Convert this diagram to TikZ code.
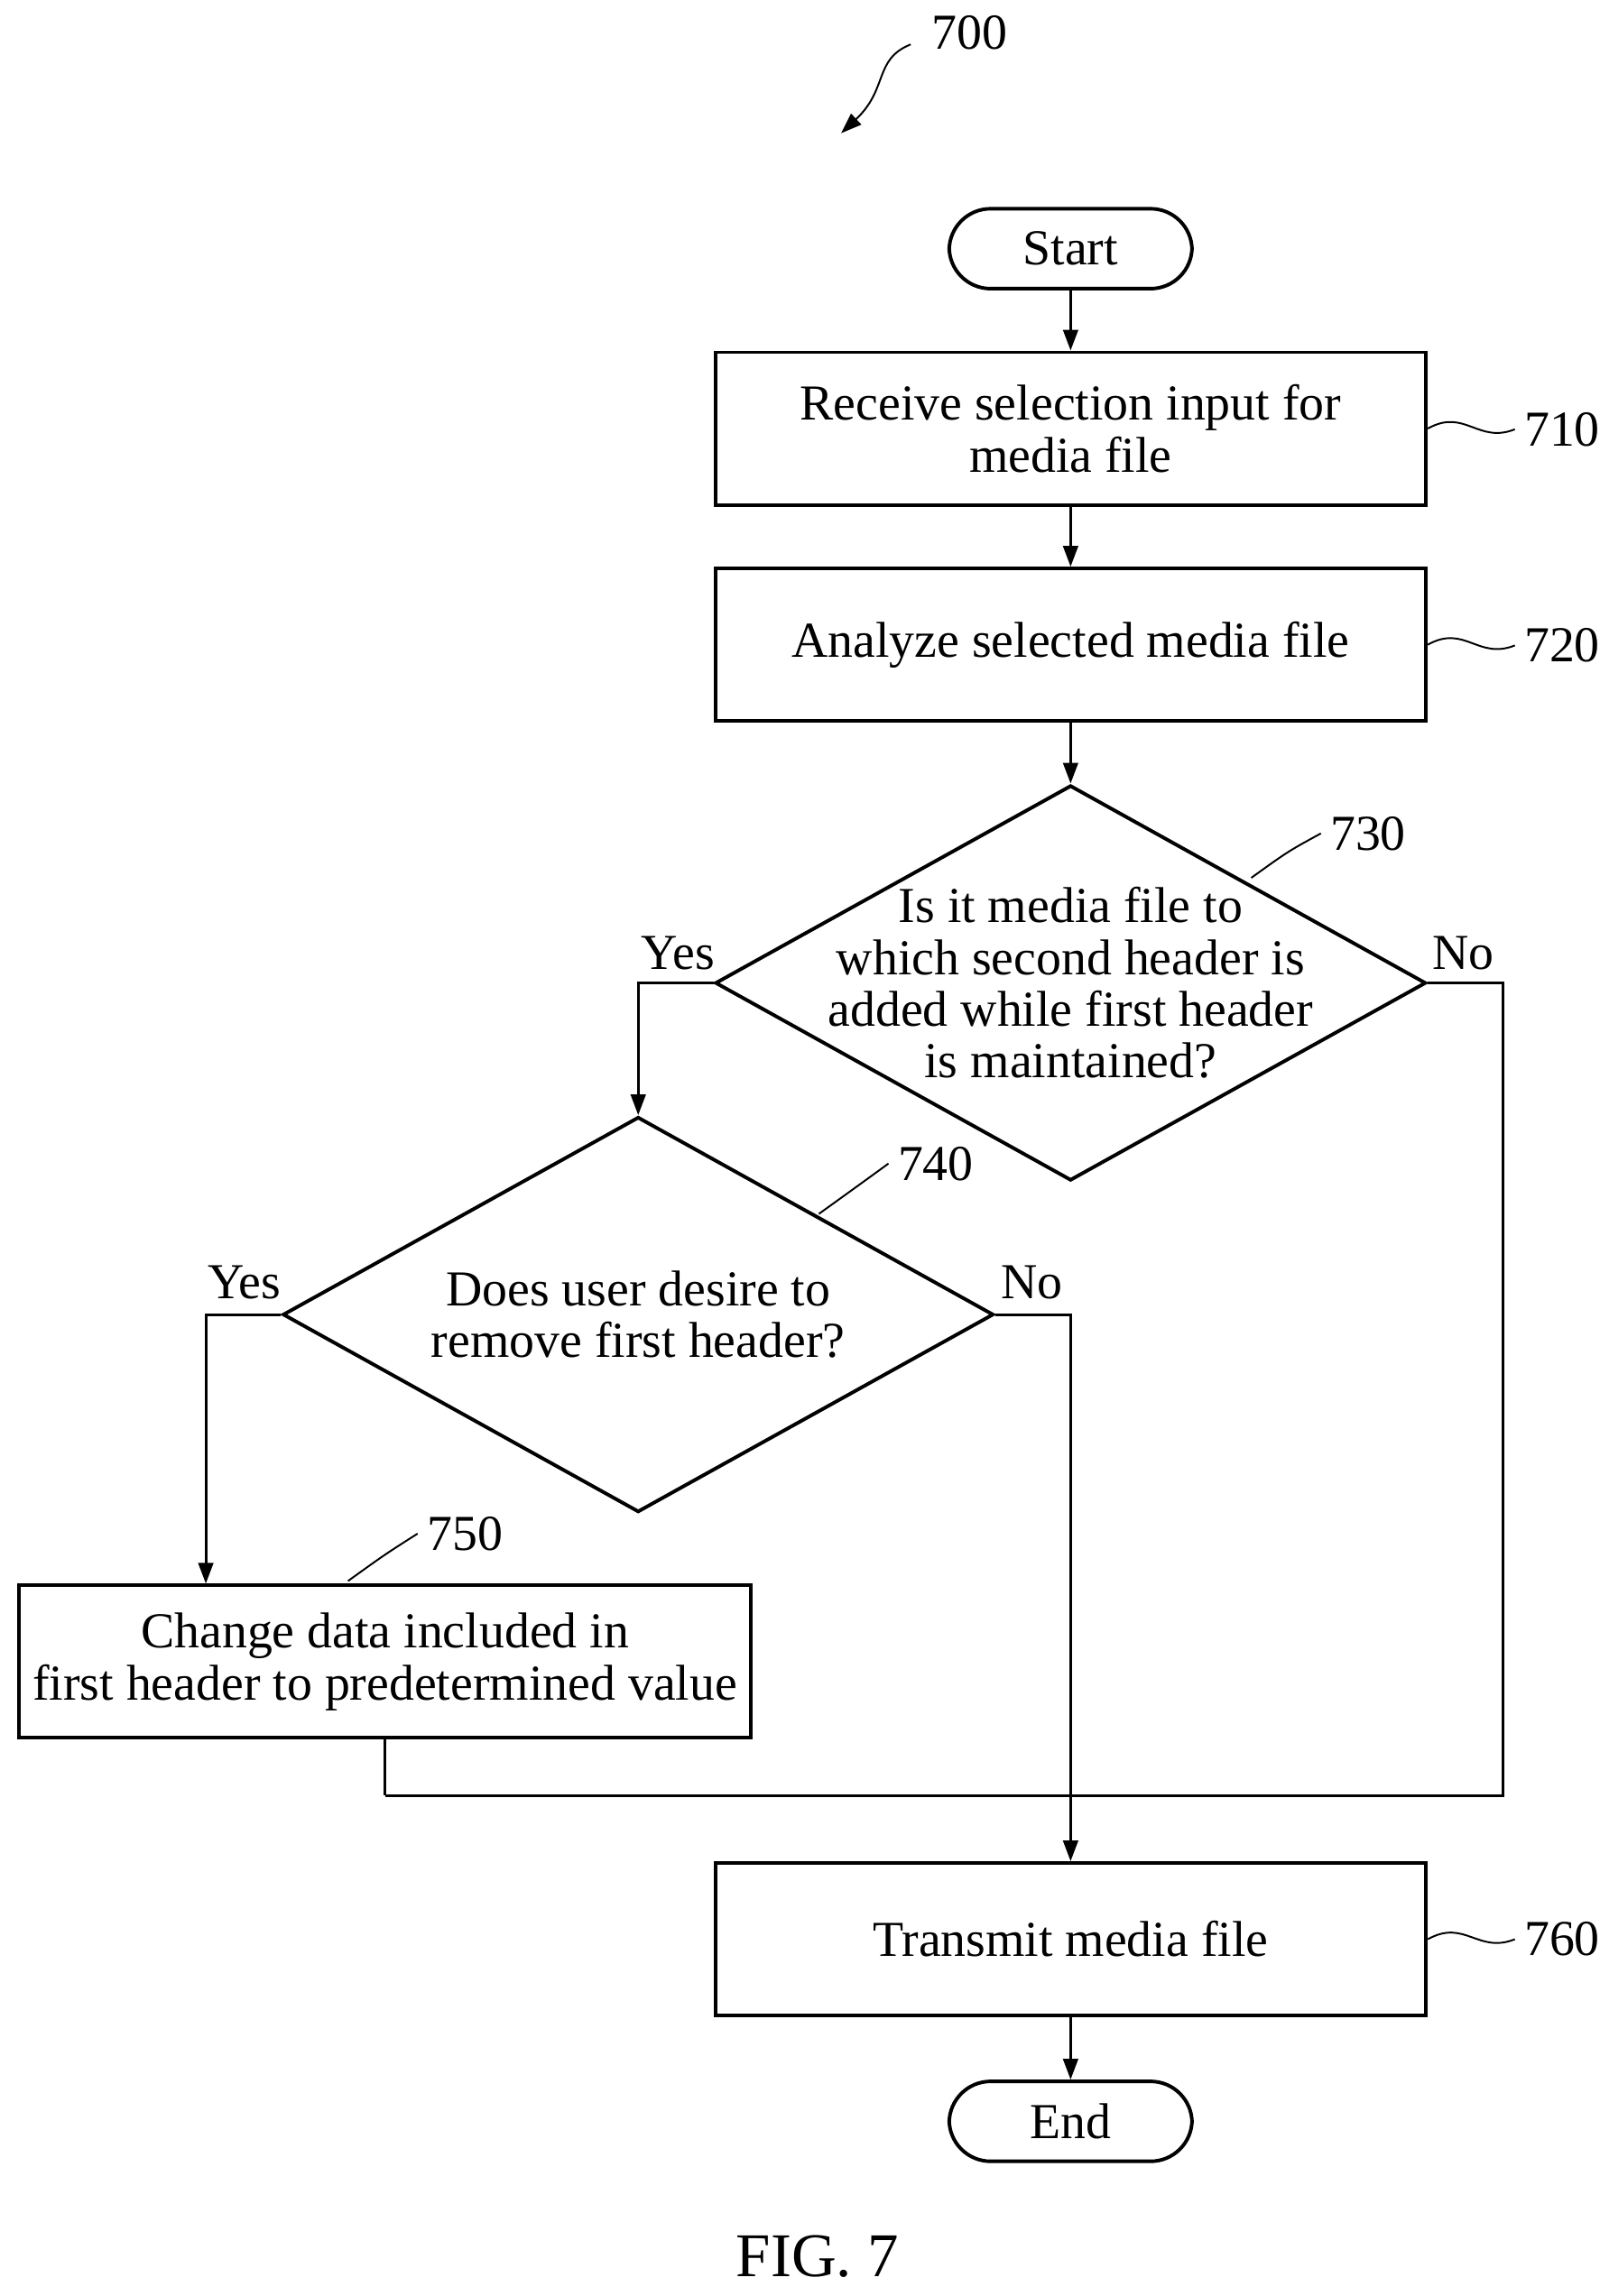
\documentclass[tikz,border=0pt]{standalone}
\usepackage{fontspec}
\setmainfont{Liberation Serif}
\usetikzlibrary{shapes.geometric,arrows.meta}
\begin{document}
\begin{tikzpicture}[x=0.5pt,y=-0.5pt,
  every node/.style={font=\fontsize{17}{17.5}\selectfont},
  box/.style={draw,line width=1.2pt,minimum width=240pt,minimum height=51.5pt,align=center,inner sep=0},
  pill/.style={draw,line width=1.2pt,rounded corners=14pt,minimum width=82pt,minimum height=27pt,inner sep=0},
  dia/.style={draw,line width=1.2pt,diamond,minimum width=240pt,minimum height=133.5pt,inner sep=0},
  ln/.style={line width=0.9pt},
  arr/.style={ln,-{Triangle[length=7pt,width=5pt]}},
  lead/.style={line width=0.6pt},
  ref/.style={anchor=west,inner sep=0}]
\useasboundingbox (0,0) rectangle (1080,1551);
\node (n700) at (655,22) {700};
\draw[lead,-{Triangle[length=7pt,width=5pt]}] (615,30) .. controls (590,40) and (600,60) .. (568,90);
\node[pill] (start) at (723,168) {Start};
\node[box] (b710) at (723,289.5) {Receive selection input for\\media file};
\node[box] (b720) at (723,435.5) {Analyze selected media file};
\node[dia] (d730) at (723,664) {};
\node[align=center] (t730) at (723,664) {Is it media file to\\which second header is\\added while first header\\is maintained?};
\node[dia] (d740) at (431,888) {};
\node[align=center] (t740) at (431,888) {Does user desire to\\remove first header?};
\node[box,minimum width=247pt] (b750) at (260,1122.5) {Change data included in\\first header to predetermined value};
\node[box] (b760) at (723,1310) {Transmit media file};
\node[pill] (end) at (723,1433) {End};
\node[anchor=base,inner sep=0] (fig) at (552,1538) {\fontsize{21}{22}\selectfont FIG. 7};
% refs
\node[ref] (r710) at (1029,290) {710};
\node[ref] (r720) at (1029,436) {720};
\node[ref] (r760) at (1029,1310) {760};
\node[ref] (r730) at (898,563) {730};
\node[ref] (r740) at (606,786) {740};
\node[ref] (r750) at (288,1036) {750};
\foreach \b/\r in {b710/r710,b720/r720,b760/r760}{
  \draw[lead] (\b.east) .. controls +(25,-14) and +(-25,10) .. ([xshift=-3pt]\r.west);}
\draw[lead] (845,593) .. controls (870,575) and (870,575) .. ([xshift=-3pt]r730.west);
\draw[lead] (553,820) .. controls (578,802) and (578,802) .. ([xshift=-3pt]r740.west);
\draw[lead] (235,1068) .. controls (260,1050) and (260,1050) .. ([xshift=-3pt]r750.west);
% connectors
\draw[arr] (start) -- (b710);
\draw[arr] (b710) -- (b720);
\draw[arr] (b720) -- (d730);
\draw[arr] (d730.west) -- (431,664) -- (d740.north);
\node (y730) at (458,644) {Yes};
\node (no730) at (988,644) {No};
\coordinate (c1) at (260,1213);
\draw[ln] (d730.east) -- (1015,664) -- (1015,1213) -- (c1);
\draw[ln] (b750.south) -- (c1);
\draw[arr] (d740.west) -- (139,888) -- (b750.north -| 139,0);
\node (y740) at (165,866) {Yes};
\node (no740) at (697,866) {No};
\draw[arr] (d740.east) -- (723,888) -- (b760.north);
\draw[arr] (b760) -- (end);
\end{tikzpicture}
\end{document}
